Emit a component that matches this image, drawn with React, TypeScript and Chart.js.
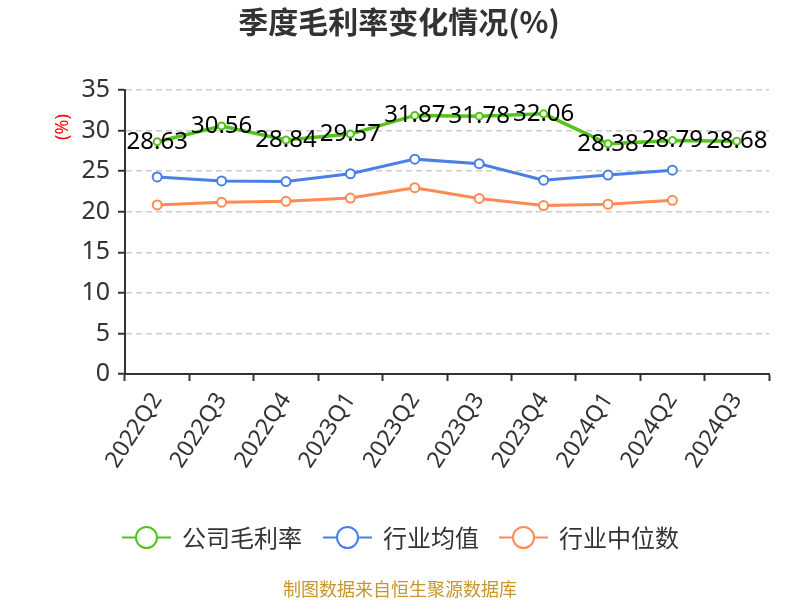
import React, { useEffect, useRef } from "react";
import { Chart, registerables } from "chart.js";

Chart.register(...registerables);

const categories = ["2022Q2", "2022Q3", "2022Q4", "2023Q1", "2023Q2", "2023Q3", "2023Q4", "2024Q1", "2024Q2", "2024Q3"];
const companyMargin = [28.63, 30.56, 28.84, 29.57, 31.87, 31.78, 32.06, 28.38, 28.79, 28.68];
const industryAvg = [24.28, 23.8, 23.72, 24.68, 26.48, 25.92, 23.88, 24.52, 25.12, null];
const industryMedian = [20.84, 21.16, 21.28, 21.68, 22.96, 21.64, 20.76, 20.92, 21.4, null];
const yTicks = [0, 5, 10, 15, 20, 25, 30, 35];
const seriesNames = ["公司毛利率", "行业均值", "行业中位数"];
const titleText = "季度毛利率变化情况(%)";
const footerText = "制图数据来自恒生聚源数据库";
const yAxisTitle = "(%)";

const GREEN = "#52c41a";
const BLUE = "#4a80e6";
const ORANGE = "#ff8a52";
const FONT = '"Noto Sans", "Noto Sans CJK SC", sans-serif';
const CJK = '"Noto Sans CJK SC", "Noto Sans", sans-serif';

export default function App() {
  const ref = useRef<HTMLCanvasElement | null>(null);
  useEffect(() => {
    if (!ref.current) return;
    const overlay = {
      id: "overlay",
      afterDatasetsDraw(chart: any) {
        const ctx = chart.ctx as CanvasRenderingContext2D;
        const meta = chart.getDatasetMeta(0);
        ctx.save();
        ctx.font = `24px ${FONT}`;
        ctx.fillStyle = "#000";
        ctx.textAlign = "center";
        ctx.textBaseline = "middle";
        meta.data.forEach((pt: any, i: number) => {
          ctx.fillText(companyMargin[i].toFixed(2), pt.x, pt.y);
        });
        ctx.restore();
      },
      afterDraw(chart: any) {
        const ctx = chart.ctx as CanvasRenderingContext2D;
        ctx.save();
        ctx.font = `bold 30px ${CJK}`;
        ctx.fillStyle = "#333";
        ctx.textAlign = "center";
        ctx.textBaseline = "middle";
        ctx.fillText(titleText, 399, 22);
        ctx.save();
        ctx.translate(63, 127);
        ctx.rotate(-Math.PI / 2);
        ctx.font = `18px ${FONT}`;
        ctx.fillStyle = "#ff0000";
        ctx.fillText(yAxisTitle, 0, 0);
        ctx.restore();
        const items = [
          { name: seriesNames[0], color: GREEN, x: 122 },
          { name: seriesNames[1], color: BLUE, x: 323 },
          { name: seriesNames[2], color: ORANGE, x: 499 },
        ];
        const ly = 537.5;
        items.forEach((it) => {
          ctx.strokeStyle = it.color;
          ctx.lineWidth = 2;
          ctx.beginPath();
          ctx.moveTo(it.x, ly);
          ctx.lineTo(it.x + 49, ly);
          ctx.stroke();
          ctx.beginPath();
          ctx.arc(it.x + 24.5, ly, 10.5, 0, Math.PI * 2);
          ctx.fillStyle = "#fff";
          ctx.fill();
          ctx.stroke();
          ctx.font = `24px ${CJK}`;
          ctx.fillStyle = "#333";
          ctx.textAlign = "left";
          ctx.textBaseline = "middle";
          ctx.fillText(it.name, it.x + 60, ly);
        });
        ctx.font = `18px ${CJK}`;
        ctx.fillStyle = "#c8962a";
        ctx.textAlign = "center";
        ctx.fillText(footerText, 400, 589);
        ctx.restore();
      },
    };

    const mk = (label: string, data: any[], color: string, bw: number, pr: number) => ({
      label,
      data,
      borderColor: color,
      backgroundColor: "#fff",
      borderWidth: bw,
      pointRadius: pr,
      pointBorderWidth: 2,
      pointBackgroundColor: "#fff",
      pointBorderColor: color,
      tension: 0,
    });

    const chart = new Chart(ref.current, {
      type: "line",
      data: {
        labels: categories,
        datasets: [
          mk(seriesNames[0], companyMargin, GREEN, 3.5, 3.5),
          mk(seriesNames[1], industryAvg, BLUE, 3, 4.5),
          mk(seriesNames[2], industryMedian, ORANGE, 3, 4.5),
        ] as any,
      },
      options: {
        animation: false,
        responsive: false,
        layout: { padding: { top: 90, right: 31, left: 0, bottom: 0 } },
        plugins: { legend: { display: false }, tooltip: { enabled: false }, title: { display: false } },
        scales: {
          x: {
            offset: true,
            grid: { offset: true, drawOnChartArea: false, tickColor: "#333", tickLength: 7, tickWidth: 2 },
            border: { color: "#333", width: 2 },
            ticks: {
              color: "#333",
              font: { size: 23, family: FONT },
              minRotation: 57,
              maxRotation: 57,
              padding: 7,
            },
            afterFit(scale: any) {
              scale.height = 600 - 374;
            },
          },
          y: {
            min: 0,
            max: 35,
            afterBuildTicks(scale: any) {
              scale.ticks = yTicks.map((v) => ({ value: v }));
            },
            grid: { color: "#cccccc", tickColor: "#333", tickLength: 7, tickWidth: 2, lineWidth: 1.5 },
            border: { color: "#333", width: 2, dash: [6, 4] },
            ticks: { color: "#333", font: { size: 25, family: FONT }, padding: 8 },
            afterFit(scale: any) {
              scale.width = 125;
            },
          },
        },
      },
      plugins: [overlay],
    });
    return () => chart.destroy();
  }, []);
  return (
    <div style={{ position: "absolute", left: 0, top: 0, width: 800, height: 600, background: "#fff" }}>
      <canvas ref={ref} width={800} height={600} style={{ width: 800, height: 600 }} />
    </div>
  );
}
